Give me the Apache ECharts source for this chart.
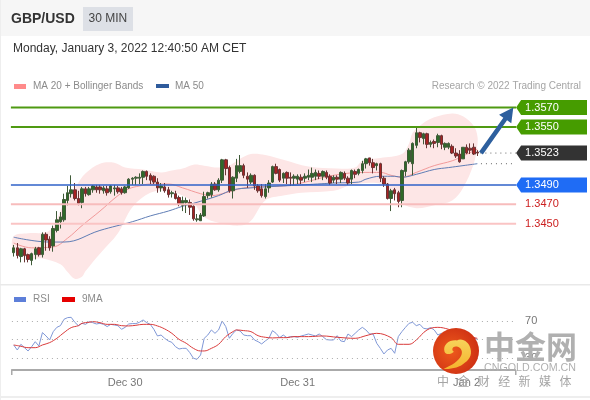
<!DOCTYPE html>
<html><head><meta charset="utf-8">
<style>html,body{margin:0;padding:0;background:#fff}#c{width:590px;height:400px}</style>
<script src="https://cdn.jsdelivr.net/npm/echarts@6/dist/echarts.min.js"></script>
</head><body><div id="c"></div>
<script>
const opens=[1.3420,1.3425,1.3416,1.3424,1.3418,1.3412,1.3418,1.3425,1.3418,1.3439,1.3434,1.3427,1.3443,1.3452,1.3454,1.3474,1.3481,1.3485,1.3476,1.3472,1.3486,1.3480,1.3485,1.3488,1.3488,1.3484,1.3486,1.3483,1.3486,1.3487,1.3486,1.3482,1.3487,1.3496,1.3497,1.3497,1.3498,1.3504,1.3500,1.3499,1.3493,1.3487,1.3488,1.3485,1.3481,1.3481,1.3477,1.3469,1.3472,1.3472,1.3468,1.3454,1.3453,1.3458,1.3479,1.3480,1.3491,1.3485,1.3495,1.3516,1.3508,1.3484,1.3497,1.3504,1.3510,1.3499,1.3493,1.3500,1.3489,1.3486,1.3478,1.3487,1.3493,1.3509,1.3506,1.3497,1.3503,1.3498,1.3497,1.3496,1.3498,1.3497,1.3498,1.3498,1.3499,1.3502,1.3499,1.3503,1.3499,1.3495,1.3498,1.3496,1.3502,1.3497,1.3496,1.3504,1.3502,1.3505,1.3512,1.3518,1.3513,1.3510,1.3512,1.3497,1.3491,1.3476,1.3485,1.3482,1.3474,1.3504,1.3514,1.3512,1.3531,1.3544,1.3538,1.3543,1.3532,1.3535,1.3534,1.3541,1.3529,1.3529,1.3530,1.3523,1.3522,1.3517,1.3529,1.3528,1.3529,1.3524];
const closes=[1.3425,1.3417,1.3424,1.3417,1.3413,1.3419,1.3424,1.3418,1.3439,1.3433,1.3425,1.3445,1.3454,1.3457,1.3475,1.3482,1.3485,1.3476,1.3471,1.3486,1.3481,1.3486,1.3489,1.3485,1.3485,1.3487,1.3482,1.3489,1.3487,1.3483,1.3482,1.3488,1.3496,1.3497,1.3498,1.3498,1.3504,1.3499,1.3495,1.3493,1.3487,1.3489,1.3484,1.3480,1.3482,1.3476,1.3470,1.3474,1.3474,1.3467,1.3455,1.3455,1.3459,1.3478,1.3482,1.3491,1.3485,1.3495,1.3516,1.3507,1.3484,1.3498,1.3510,1.3510,1.3500,1.3496,1.3500,1.3489,1.3484,1.3479,1.3486,1.3492,1.3509,1.3502,1.3495,1.3502,1.3497,1.3497,1.3499,1.3499,1.3495,1.3499,1.3500,1.3502,1.3503,1.3499,1.3504,1.3498,1.3492,1.3498,1.3496,1.3503,1.3497,1.3492,1.3505,1.3501,1.3506,1.3512,1.3517,1.3513,1.3508,1.3512,1.3497,1.3491,1.3476,1.3484,1.3481,1.3473,1.3505,1.3514,1.3526,1.3533,1.3544,1.3539,1.3543,1.3532,1.3534,1.3533,1.3541,1.3532,1.3533,1.3533,1.3523,1.3520,1.3514,1.3529,1.3523,1.3526,1.3522,1.3523];
const lows=[1.3416,1.3414,1.3410,1.3410,1.3410,1.3407,1.3413,1.3416,1.3415,1.3422,1.3422,1.3421,1.3441,1.3445,1.3452,1.3469,1.3477,1.3474,1.3469,1.3466,1.3478,1.3479,1.3482,1.3482,1.3481,1.3481,1.3479,1.3481,1.3479,1.3481,1.3480,1.3481,1.3486,1.3490,1.3490,1.3491,1.3491,1.3495,1.3491,1.3491,1.3482,1.3483,1.3482,1.3477,1.3477,1.3475,1.3468,1.3463,1.3461,1.3459,1.3453,1.3452,1.3453,1.3457,1.3476,1.3477,1.3484,1.3483,1.3492,1.3500,1.3482,1.3476,1.3493,1.3502,1.3497,1.3487,1.3491,1.3485,1.3482,1.3477,1.3476,1.3482,1.3492,1.3501,1.3493,1.3492,1.3491,1.3489,1.3490,1.3491,1.3491,1.3493,1.3495,1.3493,1.3495,1.3496,1.3495,1.3496,1.3490,1.3492,1.3491,1.3492,1.3495,1.3490,1.3491,1.3497,1.3500,1.3502,1.3507,1.3510,1.3502,1.3505,1.3493,1.3488,1.3475,1.3463,1.3474,1.3467,1.3467,1.3499,1.3512,1.3500,1.3528,1.3534,1.3532,1.3528,1.3529,1.3528,1.3529,1.3527,1.3526,1.3527,1.3522,1.3518,1.3513,1.3517,1.3522,1.3522,1.3521,1.3520];
const highs=[1.3428,1.3430,1.3425,1.3425,1.3419,1.3420,1.3426,1.3426,1.3441,1.3441,1.3437,1.3448,1.3463,1.3462,1.3481,1.3489,1.3500,1.3492,1.3484,1.3488,1.3488,1.3488,1.3490,1.3490,1.3490,1.3489,1.3489,1.3490,1.3490,1.3489,1.3488,1.3489,1.3497,1.3498,1.3499,1.3502,1.3505,1.3505,1.3502,1.3500,1.3497,1.3492,1.3492,1.3488,1.3484,1.3484,1.3479,1.3478,1.3477,1.3475,1.3469,1.3460,1.3461,1.3483,1.3483,1.3493,1.3493,1.3497,1.3517,1.3517,1.3510,1.3499,1.3517,1.3521,1.3512,1.3503,1.3502,1.3501,1.3491,1.3491,1.3491,1.3495,1.3510,1.3512,1.3507,1.3503,1.3504,1.3503,1.3501,1.3501,1.3501,1.3502,1.3506,1.3508,1.3506,1.3505,1.3505,1.3505,1.3501,1.3500,1.3500,1.3504,1.3504,1.3499,1.3506,1.3506,1.3507,1.3515,1.3518,1.3518,1.3517,1.3513,1.3513,1.3499,1.3492,1.3486,1.3487,1.3484,1.3506,1.3515,1.3528,1.3534,1.3549,1.3545,1.3544,1.3544,1.3536,1.3537,1.3543,1.3542,1.3534,1.3534,1.3532,1.3528,1.3526,1.3529,1.3532,1.3533,1.3533,1.3526];

const ma20Idx=[0,5,11,15,19,24,29,32,35,38,43,47,52,55,59,64,68,75,80,89,98,102,105,108,112,117,122,125,129];
const ma20Val=[1.3430,1.3425,1.3426,1.3435,1.3448,1.3463,1.3479,1.3486,1.3489,1.3491,1.3491,1.3487,1.3481,1.3479,1.3482,1.3487,1.3488,1.3489,1.3492,1.3500,1.3503,1.3503,1.3500,1.3498,1.3503,1.3510,1.3515,1.3520,1.3527];
const ma50Idx=[0,10,14,24,33,38,43,47,50,57,61,66,70,80,89,96,98,102,106,108,112,117,121,125,129];
const ma50Val=[1.3436,1.3431,1.3431,1.3443,1.3452,1.3458,1.3463,1.3468,1.3471,1.3479,1.3485,1.3487,1.3488,1.3490,1.3492,1.3493,1.3496,1.3499,1.3499,1.3498,1.3501,1.3506,1.3508,1.3510,1.3512];

const upperIdx=[0,4,9,11,14,17,20,24,28,31,36,41,44,47,50,53,57,60,63,66,70,75,82,90,95,97,102,108,110,111,114,117,122,125,128,129];
const upperVal=[1.3437,1.3440,1.3441,1.3447,1.3471,1.3487,1.3502,1.3512,1.3513,1.3508,1.3506,1.3503,1.3505,1.3507,1.3511,1.3510,1.3508,1.3510,1.3517,1.3522,1.3521,1.3516,1.3509,1.3507,1.3508,1.3515,1.3518,1.3522,1.3533,1.3544,1.3554,1.3560,1.3564,1.3561,1.3551,1.3541];
const lowerIdx=[0,5,8,13,15,17,19,20,24,29,33,38,43,47,50,53,57,63,66,70,75,80,89,94,101,104,108,112,117,122,125,128,129];
const lowerVal=[1.3422,1.3414,1.3414,1.3408,1.3400,1.3393,1.3395,1.3401,1.3419,1.3440,1.3467,1.3482,1.3484,1.3479,1.3472,1.3457,1.3451,1.3448,1.3453,1.3474,1.3479,1.3482,1.3484,1.3490,1.3492,1.3487,1.3471,1.3466,1.3469,1.3474,1.3487,1.3512,1.3531];

const levelValues=[1.3570,1.3550,1.3523,1.3490,1.3470,1.3450];
const ma50Last=1.3512;
const arrowFrom=[130,1.3523];
const arrowTo=[139,1.3570];

const rsiValues=[44.4,39,45.1,41.5,38,42.6,47.9,43.3,57.6,54,49.7,58.6,63.2,65,71.8,73.6,73.9,68.6,65,67.5,66.4,69.3,68.2,66.8,67.5,66.4,64,66.4,65.7,65,61.1,63.2,66.8,67.2,67.2,68.6,71.1,68.2,66.4,61.1,54,55,51.5,48.7,47.2,42.6,40.1,40.8,40.8,36.2,30.2,29.1,33.7,51.5,55,60.4,56.8,60.4,70,64,51.5,56.8,60.4,59.3,55,54.3,54.3,49.7,47.9,45.5,48.7,51.5,59.7,56.8,52.2,55,52.2,53.3,53.3,52.6,54,55,56.1,55,54,56.1,53.3,50.1,49.7,49.7,54.3,48.7,47.9,56.1,53.3,56.8,60.4,63.2,60.4,56.1,56.1,46.2,40.8,34.8,39,40.8,35.5,53.3,58.6,63.2,67.5,68.6,65,66.4,62.2,61.5,62.9,60.4,55,56.8,55,55.8,53.3,52.2,51.5,54.3,55,53.3,52.2,50.4];
const ma9Idx=[0,2,4,6,8,10,12,14,16,18,19,21,22,24,26,28,30,32,34,36,38,40,42,44,46,48,50,52,53,55,57,59,61,62,64,66,68,70,72,74,76,78,82,86,90,95,98,101,105,107,110,112,115,118,121,124,127,129];
const ma9Val=[44.4,43,41.5,41.5,44.4,46.9,51.5,57.6,62.9,65,67.5,68.6,69.3,68.2,66.4,66.4,65,64.7,65.4,66.4,66.4,64.7,61.5,56.8,50.4,46.2,40.8,38,38,40.8,45.1,53.3,58.6,60.4,59.7,58.6,54.3,52.6,51.9,52.2,52.2,53.3,53.3,54,52.6,51.5,54.3,56.8,52.2,45.1,45.1,49.7,60.4,63.2,61.1,56.8,53.3,51.5];
const rsiLevels=[70,50,30];
const rsiTicks=[30,70];
const dateLabels={31:'Dec 30',79:'Dec 31',126:'Jan 2'};
const slotCount=140;

const categories=Array.from({length:slotCount},(_,i)=>String(i));
const ohlc=opens.map((o,i)=>[o,closes[i],lows[i],highs[i]]);
const zip=(a,b)=>a.map((x,i)=>[x,b[i]]);
const FONT='"Liberation Sans", Arial, sans-serif';
const levelStyles=[
 {line:'#4f9a12',w:2,tag:'#469c00'},
 {line:'#4f9a12',w:2,tag:'#469c00'},
 {line:'#666',w:1,dash:[1,4],tag:'#333333',fromLast:true},
 {line:'#2f62c9',w:1.5,tag:'#1f6cf5'},
 {line:'#f7bcbc',w:2,text:'#cc2020'},
 {line:'#fac4c4',w:2,text:'#cc2020'}
];

function levelItem(params,api){
  const i=params.dataIndex, v=api.value(1), cs=params.coordSys, s=levelStyles[i];
  const y=api.coord([0,v])[1], x1=cs.x+cs.width+1;
  const x0=s.fromLast?api.coord([129,v])[0]+3:cs.x-1;
  const kids=[{type:'line',shape:{x1:x0,y1:y,x2:x1,y2:y},style:{stroke:s.line,lineWidth:s.w,lineDash:s.dash||null}}];
  if(s.tag){kids.push({type:'polygon',shape:{points:[[x1,y],[x1+5,y-7.5],[587,y-7.5],[587,y+7.5],[x1+5,y+7.5]]},style:{fill:s.tag}});}
  kids.push({type:'text',style:{x:x1+9,y:y,text:v.toFixed(4),fill:s.text||'#fff',font:'11px '+FONT,textVerticalAlign:'middle',textAlign:'left'}});
  return {type:'group',children:kids};
}
function bandItem(params,api){
  const up=upperIdx.map((x,i)=>api.coord([x,upperVal[i]]));
  const lo=lowerIdx.map((x,i)=>api.coord([x,lowerVal[i]])).reverse();
  return {type:'polygon',shape:{points:up.concat(lo),smooth:0.35},style:{fill:'#fde6e6'}};
}
function arrowItem(params,api){
  const a=api.coord(arrowFrom), b=api.coord(arrowTo);
  const dx=b[0]-a[0],dy=b[1]-a[1],L=Math.hypot(dx,dy),ux=dx/L,uy=dy/L,nx=-uy,ny=ux;
  const hb=[b[0]-ux*14,b[1]-uy*14], w=2.3, H=7.5;
  const P=(p,k)=>[p[0]+nx*k,p[1]+ny*k];
  return {type:'polygon',shape:{points:[P(a,-w),P(hb,-w),P(hb,-H),b,P(hb,H),P(hb,w),P(a,w)]},style:{fill:'#2d5f9e'}};
}
function swirlItem(){
  return {type:'path',shape:{pathData:'M445 352 C443 345 450 340 457 341 C462 338 469 343 470 349 C472 356 468 361 463 364 C458 368 450 369 444 369 C452 365 458 362 461 356 C463 352 461 348 457 347 C453 346 451 350 454 352 C451 355 446 355 445 352 Z',layout:'cover',x:443.5,y:339.5,width:27.5,height:29.5},style:{fill:new echarts.graphic.LinearGradient(0,0,0,1,[{offset:0,color:'#f7d35a'},{offset:1,color:'#f5b32e'}])}};
}
const GRAY='#8b8b8b';
const txt=(x,y,t,fill,size,extra)=>Object.assign({type:'text',x:x,y:y,z:5,style:{text:t,fill:fill,font:size+'px '+FONT,textVerticalAlign:'middle'}},extra||{});
const box=(x,y,w,h,fill,z)=>({type:'rect',shape:{x:x,y:y,width:w,height:h},style:{fill:fill},z:z===undefined?5:z,silent:true});
const mediaChars=['中','金','财','经','新','媒','体'];
const cjk='"Noto Sans CJK SC", sans-serif';

const graphics=[
 box(0,0,590,36,'#f6f6f6',-10),
 box(0,0,1,400,'#eeeeee',-10),
 box(0,284,590,1.5,'#e9e9e9',-10),
 box(0,396,590,2,'#eeeeee',-10),
 box(83,7,50,24,'#dde0e6',-9),
 txt(11,19,'GBP/USD','#333',14,{style:{text:'GBP/USD',fill:'#333',font:'bold 14px '+FONT,textVerticalAlign:'middle'}}),
 txt(88.5,19,'30 MIN','#444',12),
 txt(13,48.5,'Monday, January 3, 2022 12:40:50 AM CET','#333',12),
 box(14,84,12,5,'#ff8a8a'),
 txt(33,86.5,'MA 20 + Bollinger Bands',GRAY,10),
 box(156,84,13,4,'#2f5b9c'),
 txt(175,86.5,'MA 50',GRAY,10),
 txt(581,86.5,'Research © 2022 Trading Central','#a5a5a5',10,{style:{text:'Research © 2022 Trading Central',fill:'#a5a5a5',font:'10px '+FONT,textVerticalAlign:'middle',textAlign:'right'}}),
 box(14,297,12,5,'#5d7fd9'),
 txt(33,299.5,'RSI',GRAY,10),
 box(62,297,13,5,'#e60000'),
 txt(82,299.5,'9MA',GRAY,10),
 box(11,370,1.5,5,'#aaaaaa'),
 box(515,370,1.5,5,'#aaaaaa'),
 {type:'circle',z:20,shape:{cx:456,cy:351,r:23},style:{fill:{type:'radial',x:0.4,y:0.5,r:0.7,colorStops:[{offset:0,color:'#ee5a1c'},{offset:1,color:'#c92a12'}]}}},
 {type:'text',z:20,x:484,y:346,style:{text:'中金网',fill:'#b0b0b0',font:'bold 31px '+cjk,textVerticalAlign:'middle'}},
 {type:'text',z:20,x:484,y:368,style:{text:'CNGOLD.COM.CN',fill:'#b0b0b0',font:'10.7px '+FONT,textVerticalAlign:'middle'}}
].concat(mediaChars.map((c,i)=>({type:'text',z:20,x:437+i*20.4,y:381,style:{text:c,fill:'#a5a5a5',font:'12px '+cjk,textVerticalAlign:'middle'}})));

const chart=echarts.init(document.getElementById('c'),null,{renderer:'canvas'});
chart.setOption({
 animation:false,
 graphic:{elements:graphics},
 grid:[
  {left:11.9,width:503.2,top:78.6,height:212.76},
  {left:11.9,width:503.2,top:311.6,height:58.1}
 ],
 xAxis:[
  {type:'category',gridIndex:0,data:categories,show:false,boundaryGap:true},
  {type:'category',gridIndex:1,data:categories,boundaryGap:true,
   axisLine:{show:true,lineStyle:{color:'#aaaaaa',width:2}},axisTick:{show:false},
   axisLabel:{interval:0,color:'#777',fontSize:11,fontFamily:'Liberation Sans',margin:8,hideOverlap:false,formatter:(v,i)=>dateLabels[i]||''}}
 ],
 yAxis:[
  {type:'value',gridIndex:0,min:1.338,max:1.36,show:false,scale:true},
  {type:'value',gridIndex:1,min:18,max:80,position:'right',
   axisLine:{show:false},axisTick:{show:false},splitLine:{show:false},
   axisLabel:{customValues:rsiTicks,color:'#777',fontSize:11,fontFamily:'Liberation Sans',margin:10}}
 ],
 series:[
  {type:'custom',name:'Bollinger Bands',xAxisIndex:0,yAxisIndex:0,z:1,silent:true,data:[[0,upperVal[0]]],renderItem:bandItem},
  {type:'line',name:'MA 20',xAxisIndex:0,yAxisIndex:0,z:2,smooth:0.4,showSymbol:false,silent:true,data:zip(ma20Idx,ma20Val),lineStyle:{color:'#f29a9a',width:1}},
  {type:'line',name:'MA 50',xAxisIndex:0,yAxisIndex:0,z:2,smooth:0.4,showSymbol:false,silent:true,data:zip(ma50Idx,ma50Val),lineStyle:{color:'#5f7db5',width:1}},
  {type:'candlestick',name:'GBP/USD',xAxisIndex:0,yAxisIndex:0,z:3,barWidth:3,silent:true,data:ohlc,
   itemStyle:{color:'#2f6a28',color0:'#a82222',borderColor:'#3f5a38',borderColor0:'#6a3434',borderWidth:1}},
  {type:'custom',name:'Levels',xAxisIndex:0,yAxisIndex:0,z:4,silent:true,data:levelValues.map((v,i)=>[i,v]),renderItem:levelItem},
  {type:'line',name:'MA 50 last',xAxisIndex:0,yAxisIndex:0,z:4,showSymbol:false,silent:true,data:[[130,ma50Last],[139,ma50Last]],lineStyle:{color:'#666',width:1,type:[1,4]}},
  {type:'custom',name:'Arrow',xAxisIndex:0,yAxisIndex:0,z:6,silent:true,data:[[arrowTo[0],arrowTo[1]]],renderItem:arrowItem},
  {type:'line',name:'RSI',xAxisIndex:1,yAxisIndex:1,z:3,showSymbol:false,silent:true,data:rsiValues,lineStyle:{color:'#7f97d6',width:1},
   markLine:{silent:true,symbol:'none',label:{show:false},lineStyle:{color:'#aaaaaa',width:1,type:[1,4]},data:rsiLevels.map(v=>({yAxis:v}))}},
  {type:'line',name:'9MA',xAxisIndex:1,yAxisIndex:1,z:4,smooth:0.4,showSymbol:false,silent:true,data:zip(ma9Idx,ma9Val),lineStyle:{color:'#d93a3a',width:1}},
  {type:'custom',name:'Logo',coordinateSystem:'none',z:21,silent:true,data:[[0]],renderItem:swirlItem}
 ]
});
</script></body></html>
